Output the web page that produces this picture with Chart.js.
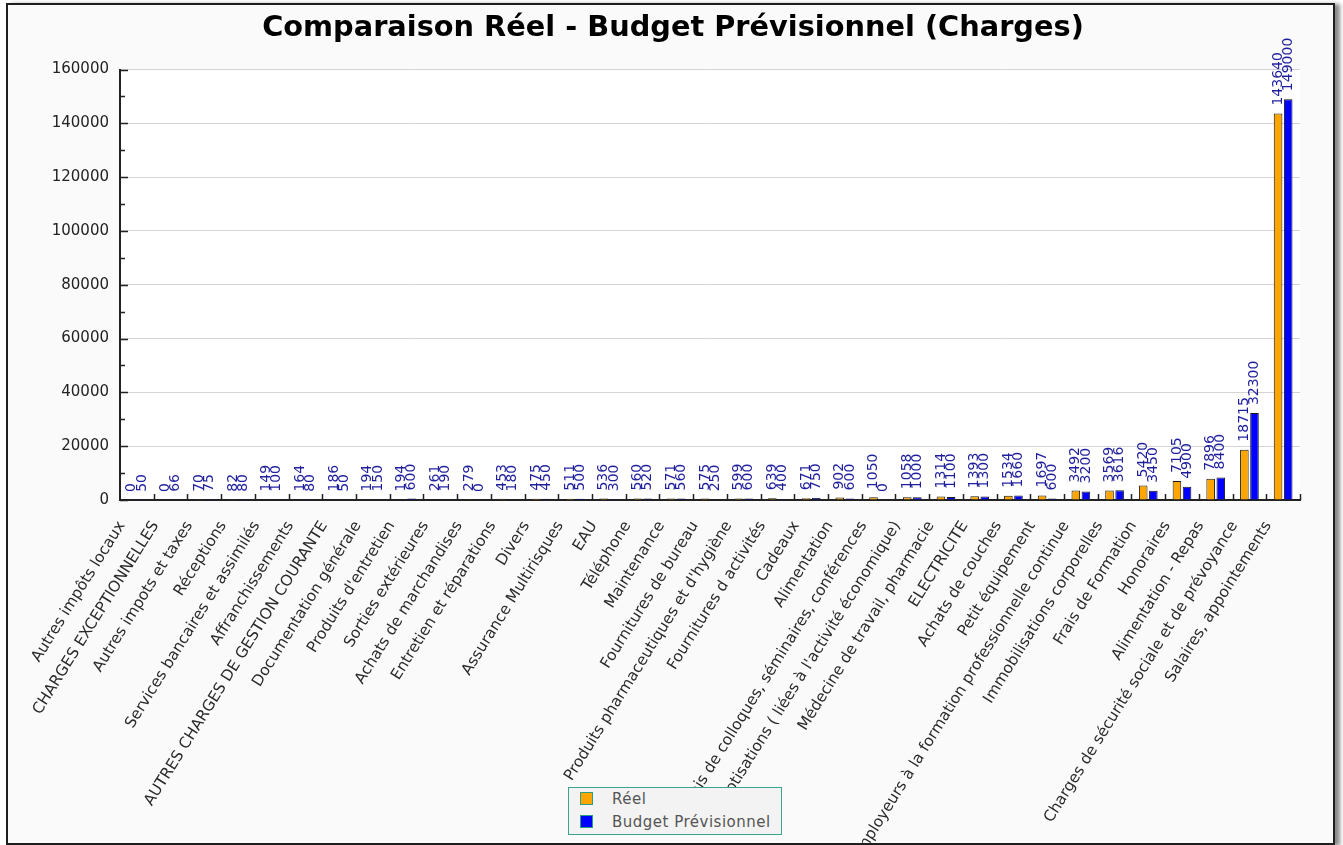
<!DOCTYPE html>
<html lang="fr">
<head>
<meta charset="utf-8">
<title>Comparaison Réel - Budget Prévisionnel (Charges)</title>
<script src="https://cdn.jsdelivr.net/npm/chart.js@4.4.1/dist/chart.umd.min.js"></script>
<style>
    body { margin: 0; background: #ffffff; }
    #frame {
        position: absolute; left: 6px; top: 3px; width: 1325px; height: 838px;
        border: 2px solid #1e1e1e; background: #fafafa;
        box-shadow: 5px 1px 4px #8a8a8a; overflow: hidden;
    }
    #chart { position: absolute; left: 0; top: 0; }
    #legend {
        position: absolute; left: 560px; top: 782px; width: 212px; height: 46px;
        border: 1px solid #3aa58c; background: #f3f3f3;
        font-family: "DejaVu Sans", sans-serif; font-size: 15px; color: #555;
    }
    #legend .item { position: absolute; left: 11px; height: 14px; line-height: 14px; white-space: nowrap; }
    #legend .box { display: inline-block; width: 11px; height: 11px; border: 1.5px solid #2a9d80; vertical-align: top; }
    #legend .txt { position: absolute; left: 32px; top: 0px; letter-spacing: 0.5px; }
</style>
</head>
<body>
<div id="frame">
    <canvas id="chart" width="1325" height="838"></canvas>
    <div id="legend"></div>
</div>
<script>
// Catégories de charges
const categories = [
    'Autres impôts locaux', 'CHARGES EXCEPTIONNELLES', 'Autres impots et taxes', 'Réceptions',
    'Services bancaires et assimilés', 'Affranchissements', 'AUTRES CHARGES DE GESTION COURANTE',
    'Documentation générale', "Produits d'entretien", 'Sorties extérieures', 'Achats de marchandises',
    'Entretien et réparations', 'Divers', 'Assurance Multirisques', 'EAU', 'Téléphone', 'Maintenance',
    'Fournitures de bureau', "Produits pharmaceutiques et d'hygiène", 'Fournitures d activités',
    'Cadeaux', 'Alimentation', 'Frais de colloques, séminaires, conférences',
    "Cotisations ( liées à l'activité économique)", 'Médecine de travail, pharmacie', 'ELECTRICITE',
    'Achats de couches', 'Petit équipement', 'Participation des employeurs à la formation professionnelle continue',
    'Immobilisations corporelles', 'Frais de Formation', 'Honoraires', 'Alimentation - Repas',
    'Charges de sécurité sociale et de prévoyance', 'Salaires, appointements'
];

const reel = [0, 0, 70, 82, 149, 164, 186, 194, 194, 261, 279, 453, 475, 511, 536, 560, 571, 575,
    599, 639, 671, 902, 1050, 1058, 1314, 1393, 1534, 1697, 3492, 3569, 5420, 7105, 7896, 18715, 143640];

const budget = [50, 66, 75, 80, 100, 80, 50, 150, 600, 190, 0, 180, 450, 500, 300, 520, 560, 250,
    600, 400, 750, 600, 0, 1000, 1100, 1300, 1660, 600, 3200, 3616, 3450, 4900, 8400, 32300, 149000];

const yMax = 160000;
const yStep = 20000;
const yMinorStep = 10000;

const FONT = '"DejaVu Sans", sans-serif';

// fond blanc de la zone de tracé
const plotBackground = {
    id: 'plotBackground',
    beforeDraw(chart) {
        const { ctx, chartArea: a } = chart;
        ctx.save();
        ctx.fillStyle = '#ffffff';
        ctx.fillRect(a.left, a.top, a.right - a.left, a.bottom - a.top);
        ctx.restore();
    }
};

// graduations vers l'intérieur (majeures et mineures)
const innerTicks = {
    id: 'innerTicks',
    afterDraw(chart) {
        const { ctx, chartArea: a } = chart;
        const x = chart.scales.x, y = chart.scales.y;
        ctx.save();
        ctx.strokeStyle = '#222';
        ctx.lineWidth = 1.5;
        ctx.beginPath();
        for (let v = 0; v <= yMax; v += yMinorStep) {
            const py = Math.round(y.getPixelForValue(v)) + 0.5;
            const len = v % yStep === 0 ? 8 : 5;
            ctx.moveTo(a.left, py);
            ctx.lineTo(a.left + len, py);
        }
        for (let i = 1; i <= categories.length; i++) {
            const px = Math.round(x.getPixelForValue(i - 0.5)) + 0.5;
            ctx.moveTo(px, a.bottom);
            ctx.lineTo(px, a.bottom - 6);
        }
        ctx.stroke();
        ctx.restore();
    }
};

// valeurs verticales au-dessus des barres
const valueLabels = {
    id: 'valueLabels',
    afterDatasetsDraw(chart) {
        const ctx = chart.ctx;
        ctx.save();
        ctx.font = '14px ' + FONT;
        ctx.fillStyle = '#1f1f9e';
        ctx.textAlign = 'left';
        ctx.textBaseline = 'middle';
        chart.data.datasets.forEach((ds, di) => {
            chart.getDatasetMeta(di).data.forEach((bar, i) => {
                ctx.save();
                ctx.translate(bar.x, bar.y - 8);
                ctx.rotate(-Math.PI / 2);
                ctx.fillText(String(ds.data[i]), 0, 0);
                ctx.restore();
            });
        });
        ctx.restore();
    }
};

const chart = new Chart(document.getElementById('chart'), {
    type: 'bar',
    data: {
        labels: categories,
        datasets: [{
            label: 'Réel',
            data: reel,
            backgroundColor: '#ffa500',
            borderColor: '#1a1a1a',
            borderWidth: 1
        }, {
            label: 'Budget Prévisionnel',
            data: budget,
            backgroundColor: '#0000ff',
            borderColor: '#1a1a1a',
            borderWidth: 1
        }]
    },
    options: {
        responsive: false,
        animation: false,
        categoryPercentage: 0.6,
        barPercentage: 0.85,
        layout: { padding: { left: 38, right: 33, top: 0, bottom: 0 } },
        plugins: {
            legend: { display: false },
            tooltip: { enabled: false },
            title: {
                display: true,
                text: 'Comparaison Réel - Budget Prévisionnel (Charges)',
                color: '#000',
                font: { family: '"DejaVu Sans", sans-serif', size: 28.8, weight: 'bold' },
                padding: { top: 6, bottom: 24 }
            }
        },
        scales: {
            x: {
                grid: { drawOnChartArea: false, drawTicks: false },
                border: { color: '#222', width: 2 },
                ticks: {
                    autoSkip: false,
                    minRotation: 58,
                    maxRotation: 58,
                    padding: 18,
                    labelOffset: -15,
                    color: '#2a2a2a',
                    font: { family: FONT, size: 15.4 }
                },
                afterFit: scale => { scale.height = 343; }
            },
            y: {
                min: 0,
                max: yMax,
                grid: { color: '#d4d4d4', drawTicks: false },
                border: { color: '#222', width: 2 },
                ticks: {
                    stepSize: yStep,
                    padding: 11,
                    color: '#222',
                    font: { family: FONT, size: 15 },
                    callback: v => String(v)
                },
                afterFit: scale => { scale.width = 74; }
            }
        }
    },
    plugins: [plotBackground, innerTicks, valueLabels]
});

// légende
const legendEl = document.getElementById('legend');
chart.data.datasets.forEach((ds, i) => {
    const item = document.createElement('div');
    item.className = 'item';
    item.style.top = (4 + i * 23) + 'px';
    item.innerHTML = '<span class="box" style="background:' + ds.backgroundColor + '"></span><span class="txt">' + ds.label + '</span>';
    legendEl.appendChild(item);
});
</script>
</body>
</html>
